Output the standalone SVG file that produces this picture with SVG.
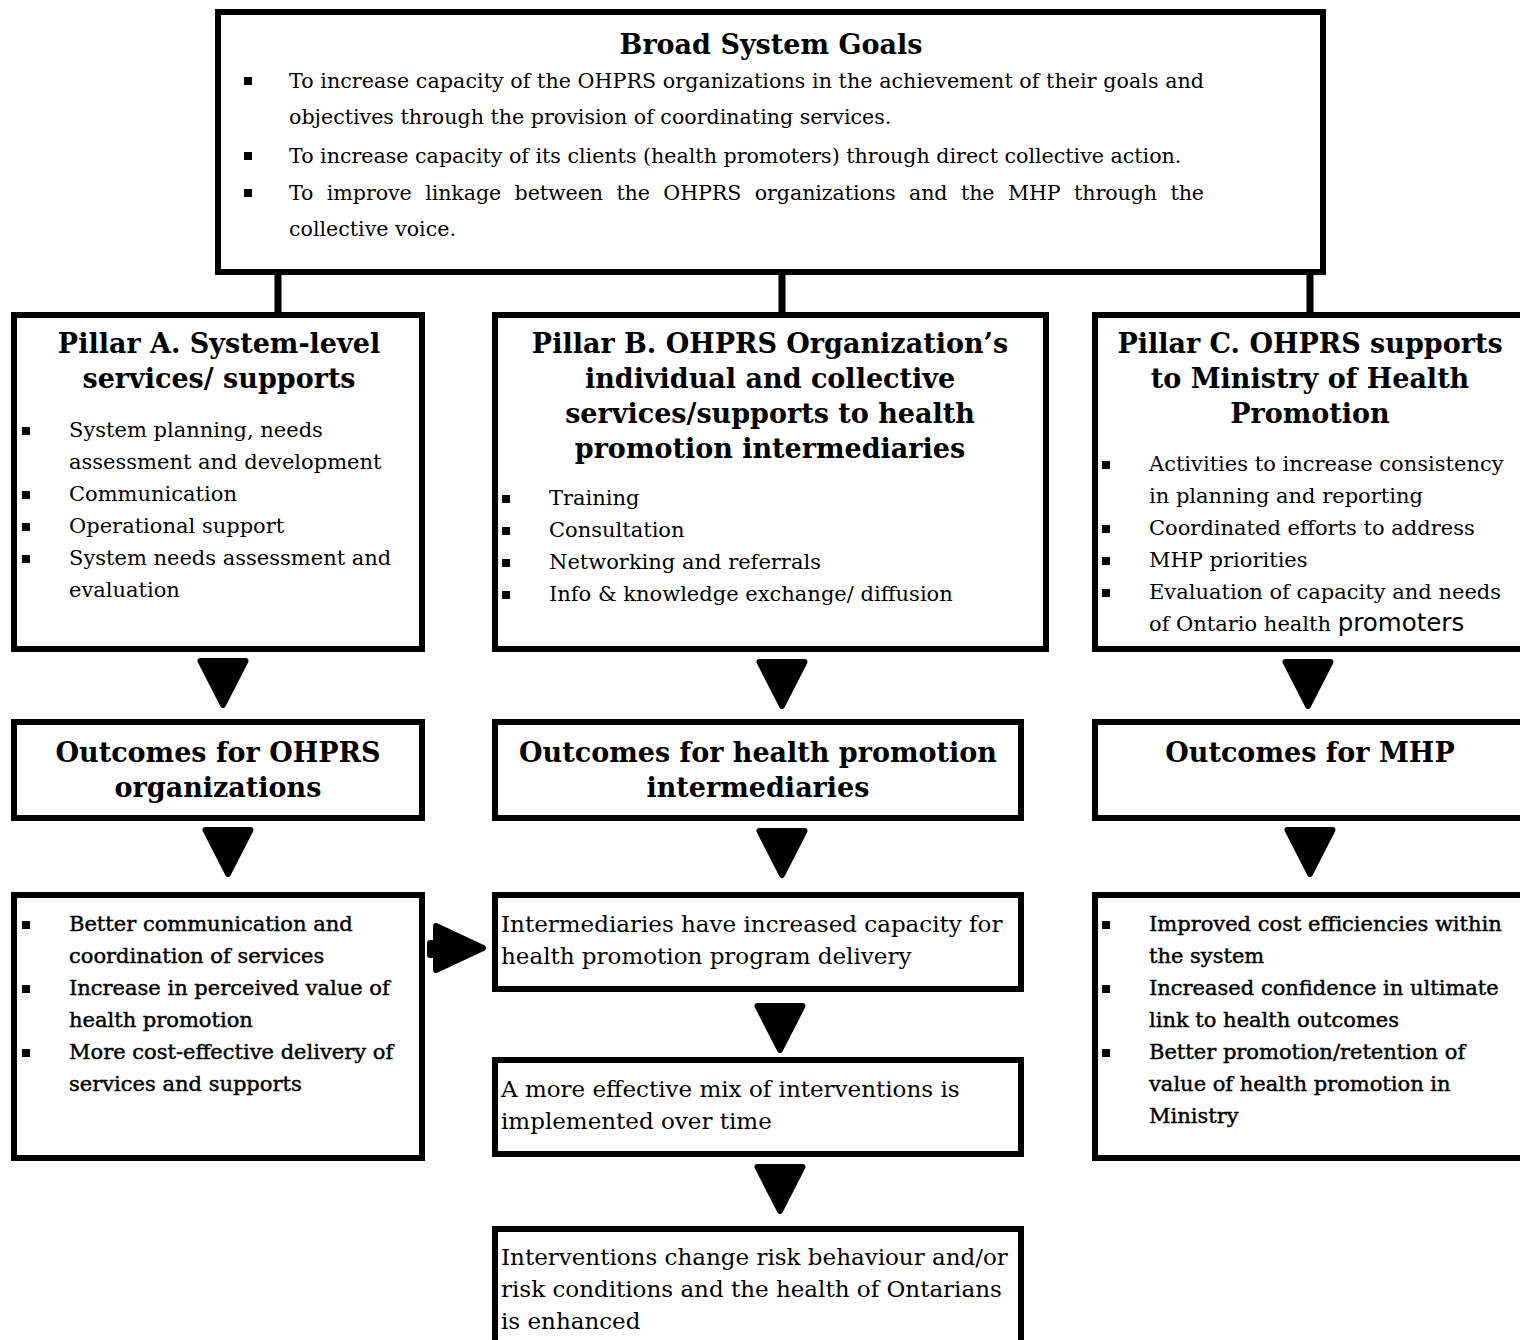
<svg xmlns="http://www.w3.org/2000/svg" xmlns:xlink="http://www.w3.org/1999/xlink" width="1520" height="1340" viewBox="0 0 1520 1340">
<style>
.box{fill:#fff;stroke:#000;stroke-width:6}
.t{font-family:"DejaVu Serif","Liberation Serif",serif;font-size:21px;fill:#000}
.g{font-size:20.6px}
.m{font-size:23px}
.h{font-family:"DejaVu Serif","Liberation Serif",serif;font-weight:bold;font-size:27px;text-anchor:middle;fill:#000}
.sb{stroke:#000;stroke-width:0.45}
.sans{font-family:"DejaVu Sans","Liberation Sans",sans-serif;font-size:24.5px}
.stub{stroke:#000;stroke-width:7;fill:none}
.arr{fill:#000;stroke:#000;stroke-width:6;stroke-linejoin:round}
</style>
<defs>
<path id="down" class="arr" d="M-22.5,3 L22.5,3 L0,47 Z"/>
<rect id="b" width="8" height="8" fill="#000"/>
</defs>
<rect width="1520" height="1340" fill="#fff"/>

<g id="connectors">
<line class="stub" x1="278" y1="272" x2="278" y2="315"/>
<line class="stub" x1="782" y1="272" x2="782" y2="315"/>
<line class="stub" x1="1310" y1="272" x2="1310" y2="315"/>
<use xlink:href="#down" x="223" y="658"/>
<use xlink:href="#down" x="782" y="659"/>
<use xlink:href="#down" x="1308" y="659"/>
<use xlink:href="#down" x="228" y="827"/>
<use xlink:href="#down" x="782" y="828"/>
<use xlink:href="#down" x="1310" y="827"/>
<use xlink:href="#down" x="780" y="1003"/>
<use xlink:href="#down" x="780" y="1164"/>
<g id="right-arrow">
<rect x="427" y="940" width="12" height="18" rx="3" fill="#000"/>
<path class="arr" d="M436,926 L483,948 L436,970 Z"/>
</g>
</g>

<g id="goals">
<rect class="box" x="218" y="12" width="1105" height="260"/>
<text class="h" x="771" y="54">Broad System Goals</text>
<use xlink:href="#b" x="244" y="77"/>
<text class="t g" x="289" y="88" textLength="915" lengthAdjust="spacing">To increase capacity of the OHPRS organizations in the achievement of their goals and</text>
<text class="t g" x="289" y="124">objectives through the provision of coordinating services.</text>
<use xlink:href="#b" x="244" y="152"/>
<text class="t g" x="289" y="163">To increase capacity of its clients (health promoters) through direct collective action.</text>
<use xlink:href="#b" x="244" y="189"/>
<text class="t g" x="289" y="200" word-spacing="7" textLength="915" lengthAdjust="spacing">To improve linkage between the OHPRS organizations and the MHP through the</text>
<text class="t g" x="289" y="236">collective voice.</text>
</g>

<g id="pillarA">
<rect class="box" x="14" y="315" width="408" height="334"/>
<text class="h" x="219" y="353">Pillar A. System-level</text>
<text class="h" x="219" y="388">services/ supports</text>
<use xlink:href="#b" x="22" y="427"/>
<text class="t" x="69" y="437">System planning, needs</text>
<text class="t" x="69" y="469">assessment and development</text>
<use xlink:href="#b" x="22" y="491"/>
<text class="t" x="69" y="501">Communication</text>
<use xlink:href="#b" x="22" y="523"/>
<text class="t" x="69" y="533">Operational support</text>
<use xlink:href="#b" x="22" y="555"/>
<text class="t" x="69" y="565">System needs assessment and</text>
<text class="t" x="69" y="597">evaluation</text>
</g>

<g id="pillarB">
<rect class="box" x="495" y="315" width="551" height="334"/>
<text class="h" x="770" y="353">Pillar B. OHPRS Organization’s</text>
<text class="h" x="770" y="388">individual and collective</text>
<text class="h" x="770" y="423">services/supports to health</text>
<text class="h" x="770" y="458">promotion intermediaries</text>
<use xlink:href="#b" x="502" y="495"/>
<text class="t" x="549" y="505">Training</text>
<use xlink:href="#b" x="502" y="527"/>
<text class="t" x="549" y="537">Consultation</text>
<use xlink:href="#b" x="502" y="559"/>
<text class="t" x="549" y="569">Networking and referrals</text>
<use xlink:href="#b" x="502" y="591"/>
<text class="t" x="549" y="601">Info &amp; knowledge exchange/ diffusion</text>
</g>

<g id="pillarC">
<rect class="box" x="1095" y="315" width="432" height="334"/>
<text class="h" x="1310" y="353">Pillar C. OHPRS supports</text>
<text class="h" x="1310" y="388">to Ministry of Health</text>
<text class="h" x="1310" y="423">Promotion</text>
<use xlink:href="#b" x="1102" y="461"/>
<text class="t" x="1149" y="471">Activities to increase consistency</text>
<text class="t" x="1149" y="503">in planning and reporting</text>
<use xlink:href="#b" x="1102" y="525"/>
<text class="t" x="1149" y="535">Coordinated efforts to address</text>
<use xlink:href="#b" x="1102" y="557"/>
<text class="t" x="1149" y="567">MHP priorities</text>
<use xlink:href="#b" x="1102" y="589"/>
<text class="t" x="1149" y="599">Evaluation of capacity and needs</text>
<text class="t" x="1149" y="631">of Ontario health <tspan class="sans">promoters</tspan></text>
</g>

<g id="outA">
<rect class="box" x="14" y="722" width="408" height="96"/>
<text class="h" x="218" y="762">Outcomes for OHPRS</text>
<text class="h" x="218" y="797">organizations</text>
</g>

<g id="outB">
<rect class="box" x="495" y="722" width="526" height="96"/>
<text class="h" x="758" y="762">Outcomes for health promotion</text>
<text class="h" x="758" y="797">intermediaries</text>
</g>

<g id="outC">
<rect class="box" x="1095" y="722" width="432" height="96"/>
<text class="h" x="1310" y="762">Outcomes for MHP</text>
</g>

<g id="resA">
<rect class="box" x="14" y="895" width="408" height="263"/>
<use xlink:href="#b" x="22" y="921"/>
<text class="t sb" x="69" y="931">Better communication and</text>
<text class="t sb" x="69" y="963">coordination of services</text>
<use xlink:href="#b" x="22" y="985"/>
<text class="t sb" x="69" y="995">Increase in perceived value of</text>
<text class="t sb" x="69" y="1027">health promotion</text>
<use xlink:href="#b" x="22" y="1049"/>
<text class="t sb" x="69" y="1059">More cost-effective delivery of</text>
<text class="t sb" x="69" y="1091">services and supports</text>
</g>

<g id="resB1">
<rect class="box" x="495" y="895" width="526" height="94"/>
<text class="t m" x="501" y="932">Intermediaries have increased capacity for</text>
<text class="t m" x="501" y="964">health promotion program delivery</text>
</g>

<g id="resB2">
<rect class="box" x="495" y="1060" width="526" height="94"/>
<text class="t m" x="501" y="1097">A more effective mix of interventions is</text>
<text class="t m" x="501" y="1129">implemented over time</text>
</g>

<g id="resB3">
<rect class="box" x="495" y="1229" width="526" height="125"/>
<text class="t m" x="501" y="1265">Interventions change risk behaviour and/or</text>
<text class="t m" x="501" y="1297">risk conditions and the health of Ontarians</text>
<text class="t m" x="501" y="1329">is enhanced</text>
</g>

<g id="resC">
<rect class="box" x="1095" y="895" width="432" height="263"/>
<use xlink:href="#b" x="1102" y="921"/>
<text class="t sb" x="1149" y="931">Improved cost efficiencies within</text>
<text class="t sb" x="1149" y="963">the system</text>
<use xlink:href="#b" x="1102" y="985"/>
<text class="t sb" x="1149" y="995">Increased confidence in ultimate</text>
<text class="t sb" x="1149" y="1027">link to health outcomes</text>
<use xlink:href="#b" x="1102" y="1049"/>
<text class="t sb" x="1149" y="1059">Better promotion/retention of</text>
<text class="t sb" x="1149" y="1091">value of health promotion in</text>
<text class="t sb" x="1149" y="1123">Ministry</text>
</g>
</svg>
